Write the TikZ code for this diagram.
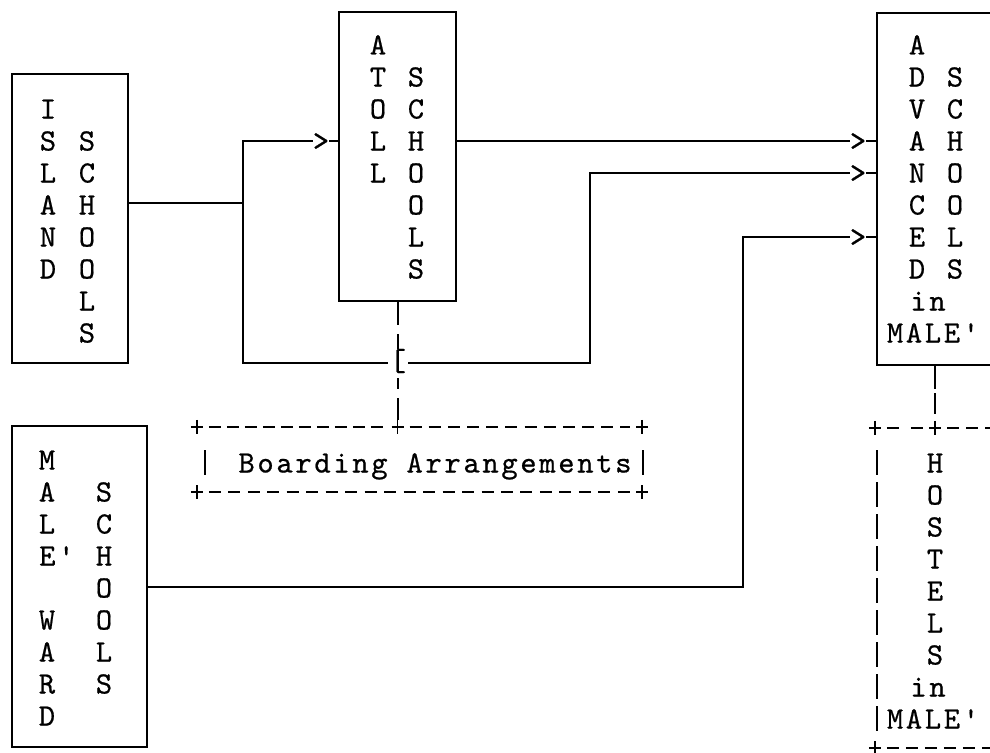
\documentclass[tikz,border=0pt]{standalone}
\usepackage{fontspec}
\usetikzlibrary{calc}
\newfontfamily\diagmono{lmmono10-regular}[Extension=.otf, FakeBold=0.6]
\newfontfamily\diagspmono{lmmono10-regular}[Extension=.otf, FakeBold=0.6, LetterSpace=8.7]
\newcommand\diagfont{\diagmono\fontsize{31}{32}\selectfont}
\newcommand\diagspfont{\diagspmono\fontsize{31}{32}\selectfont}
\tikzset{
  ch/.style={font=\diagfont, inner sep=0pt, text height=19pt, text depth=0pt},
  spaced/.style={font=\diagspfont, inner sep=0pt, text height=19pt, text depth=0pt},
  solidbox/.style={draw, line width=2.6pt, inner sep=0pt},
  dframe/.style={inner sep=0pt},
  conn/.style={line width=2.4pt},
  hdash/.style={line width=2pt, dash pattern=on 12pt off #1pt},
  hdash/.default=7,
  vdash/.style={line width=2pt, dash pattern=on 25pt off 7pt},
  crossmark/.pic={\draw[line width=1.8pt] (-6,0) -- (6,0) (0,-7) -- (0,7);}
}
\begin{document}
\begin{tikzpicture}[x=1pt,y=-1pt]
\useasboundingbox (0,0) rectangle (990,752);
\clip (0,0) rectangle (990,752);
% boxes
\node[solidbox, minimum width=116pt, minimum height=289pt] (island) at (70,218.5) {};
\node[solidbox, minimum width=117pt, minimum height=289pt] (atoll) at (397.5,156.5) {};
\node[solidbox, minimum width=130pt, minimum height=352pt] (adv) at (942,189) {};
\node[solidbox, minimum width=135pt, minimum height=321pt] (ward) at (79.5,586.5) {};
\node[dframe, minimum width=445pt, minimum height=65pt] (board) at (419.5,459.5) {};
\node[dframe, minimum width=135pt, minimum height=320pt] (hostel) at (942.5,588) {};
% texts
\foreach \c [count=\i from 0] in {I,S,L,A,N,D} \node[ch] (isA\i) at (48,109+32*\i) {\c};
\foreach \c [count=\i from 0] in {S,C,H,O,O,L,S} \node[ch] (isB\i) at (87,141+32*\i) {\c};
\foreach \c [count=\i from 0] in {A,T,O,L,L} \node[ch] (atA\i) at (378,45+32*\i) {\c};
\foreach \c [count=\i from 0] in {S,C,H,O,O,L,S} \node[ch] (atB\i) at (416,77+32*\i) {\c};
\foreach \c [count=\i from 0] in {A,D,V,A,N,C,E,D} \node[ch] (adA\i) at (917,45+32*\i) {\c};
\foreach \c [count=\i from 0] in {S,C,H,O,O,L,S} \node[ch] (adB\i) at (955,77+32*\i) {\c};
\node[spaced] (adin) at (928,301) {in};
\node[spaced] (admale) at (933,333) {MALE'};
\foreach \c [count=\i from 0] in {M,A,L} \node[ch] (waA\i) at (47,460+32*\i) {\c};
\node[spaced, anchor=west] (waA3) at (39,556) {E'};
\foreach \c [count=\i from 5] in {W,A,R,D} \node[ch] (waA\i) at (47,460+32*\i) {\c};
\foreach \c [count=\i from 0] in {S,C,H,O,O,L,S} \node[ch] (waB\i) at (104,492+32*\i) {\c};
\foreach \c [count=\i from 0] in {H,O,S,T,E,L,S} \node[ch] (hoA\i) at (935,463+32*\i) {\c};
\node[spaced] (hoin) at (928,687) {in};
\node[spaced] (homale) at (933,719) {MALE'};
\node[spaced] (boardtxt) at (435,463) {Boarding Arrangements};
% arrow glyphs
\node[ch] (gt1) at (321,141) {>};
\node[ch] (gt2) at (858,141) {>};
\node[ch] (gt3) at (858,173) {>};
\node[ch] (gt4) at (858,237) {>};
% junction points
\coordinate (j1) at (243,203);
\coordinate (j3) at (243,363);
\coordinate (j4) at (590,363);
\coordinate (j6) at (743,587);
% dashed links
\coordinate (bm) at (atoll.south |- board.north);
\coordinate (hm) at (hoA0 |- hostel.north);
\draw[vdash, dash pattern=on 23pt off 9pt] (atoll.south) -- ($(bm)+(0,-7)$);
\draw[vdash, dash pattern=on 23pt off 4pt] (hoA0 |- adv.south) -- ($(hm)+(0,-14)$);
% crossing bracket
\node[ch, fill=white, text height=22pt, text depth=7pt, inner xsep=2pt] (brk) at (398,363) {[};
% solid connectors
\draw[conn] (island.east |- j1) -- (j1);
\draw[conn] (gt1.west) -| (j3) -- (brk.west);
\draw[conn] (gt1.east) -- (gt1.east -| atoll.west);
\draw[conn] (brk.east) -- (j4) -- (j4 |- gt3) -- (gt3.west);
\draw[conn] (gt3.east) -- (gt3.east -| adv.west);
\draw[conn] (atoll.east |- gt2) -- (gt2.west);
\draw[conn] (gt2.east) -- (gt2.east -| adv.west);
\draw[conn] (ward.east |- j6) -- (j6) -- (j6 |- gt4) -- (gt4.west);
\draw[conn] (gt4.east) -- (gt4.east -| adv.west);
% boarding frame
\draw[hdash=6] ($(board.north west)+(12,0)$) -- ($(bm)+(-12,0)$);
\draw[hdash=7.18] ($(bm)+(12,0)$) -- ($(board.north east)+(-12,0)$);
\draw[hdash=7.48] ($(board.south west)+(12,0)$) -- ($(board.south east)+(-12,0)$);
\draw[line width=2pt] ($(board.north west)+(8,23.5)$) -- ($(board.north west)+(8,48.5)$);
\draw[line width=2pt] ($(board.north east)+(1,23.5)$) -- ($(board.north east)+(1,48.5)$);
\pic at (board.north west) {crossmark};
\pic at (bm) {crossmark};
\pic at (board.north east) {crossmark};
\pic at (board.south west) {crossmark};
\pic at (board.south east) {crossmark};
% hostels frame
\draw[hdash=12] ($(hostel.north west)+(12,0)$) -- ($(hm)+(-12,0)$);
\draw[hdash] ($(hm)+(12,0)$) -- (hostel.north east);
\draw[hdash] ($(hostel.south west)+(12,0)$) -- (hostel.south east);
\draw[vdash] ($(hostel.north west)+(2,22.5)$) -- ($(hostel.north west)+(2,303.5)$);
\pic at (hostel.north west) {crossmark};
\pic at (hm) {crossmark};
\pic at (hostel.south west) {crossmark};
\end{tikzpicture}
\end{document}
